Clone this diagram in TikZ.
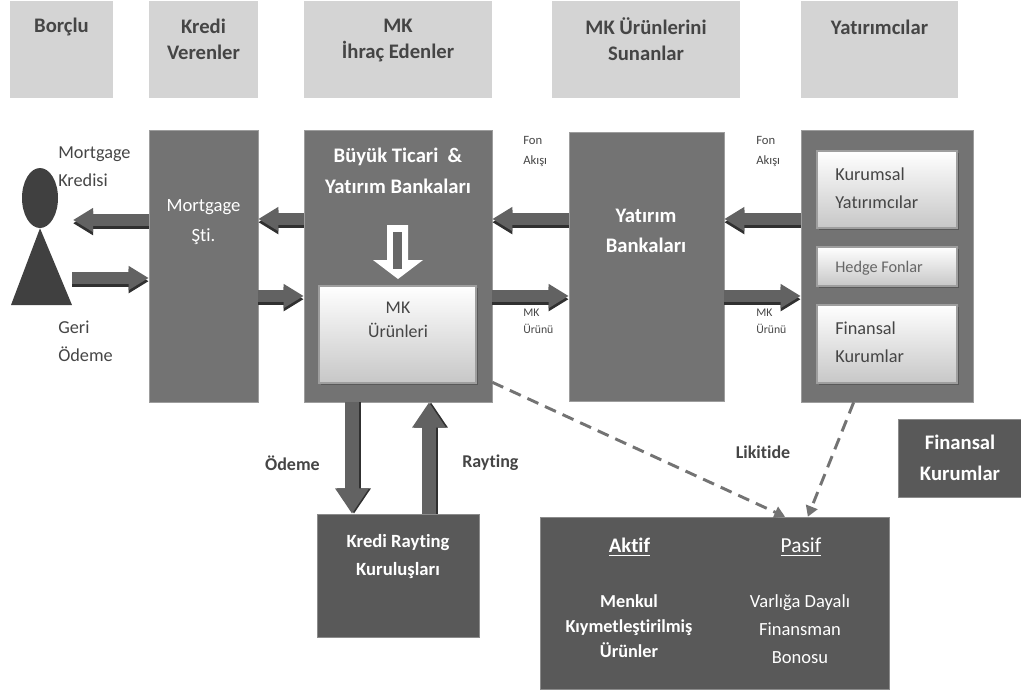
\documentclass[tikz,border=0pt]{standalone}
\usepackage{fontspec}
\setmainfont[Ligatures=NoCommon]{Carlito}
\usetikzlibrary{arrows.meta,shadows,shapes.geometric}
\definecolor{headgray}{HTML}{D4D4D4}
\definecolor{maingray}{HTML}{737373}
\definecolor{darkgray}{HTML}{595959}
\definecolor{figgray}{HTML}{404040}
\definecolor{inkgray}{HTML}{454545}
\definecolor{shaftgray}{HTML}{626262}
\definecolor{edgegray}{HTML}{303030}
\tikzset{
  headbox/.style={rectangle,fill=headgray,minimum height=72.75pt,inner sep=0pt},
  mainbox/.style={rectangle,fill=maingray,draw=maingray!70!white,line width=0.4pt,inner sep=0pt},
  darkbox/.style={rectangle,fill=darkgray,draw=darkgray!70!white,line width=0.4pt,inner sep=0pt},
  lightbox/.style={rectangle,top color=white,bottom color=black!22,draw=black!38,line width=1pt,inner sep=0pt,
    general shadow={shadow xshift=1.8pt,shadow yshift=-1.8pt,fill=black!65}},
  headtext/.style={align=center,text=inkgray,font=\fontsize{15.5}{19.5}\selectfont\bfseries,inner sep=0pt},
  inktext/.style={align=left,text=inkgray,font=\fontsize{13.7}{21}\selectfont,inner sep=0pt},
  smalltext/.style={align=left,text=inkgray,font=\fontsize{9.5}{15}\selectfont,inner sep=0pt},
  tinytext/.style={align=left,text=inkgray,font=\fontsize{8.8}{12.5}\selectfont,inner sep=0pt},
  boldtext/.style={text=inkgray,font=\fontsize{13.5}{15}\selectfont\bfseries,inner sep=0pt},
  whitetext/.style={align=center,text=white,font=\fontsize{14}{23}\selectfont,inner sep=0pt},
  whitebold/.style={align=center,text=white,font=\fontsize{15.5}{23}\selectfont\bfseries,inner sep=0pt},
  fatarrow/.style={line width=8.5pt,draw=shaftgray,-{Triangle[width=17pt,length=15pt]}},
  fatedge/.style={line width=8.5pt,draw=edgegray,-{Triangle[width=17pt,length=15pt]},transform canvas={yshift=-2.4pt}},
  fatdown/.style={line width=11pt,draw=shaftgray,-{Triangle[width=24pt,length=19pt]}},
  downedge/.style={line width=11pt,draw=edgegray,-{Triangle[width=24pt,length=19pt]},transform canvas={xshift=1.5pt}},
  dasharrow/.style={line width=2.2pt,draw=black!55,dash pattern=on 9pt off 5.5pt,-{Triangle[width=9pt,length=8pt]}}
}
\begin{document}
\begin{tikzpicture}[x=0.75pt,y=-0.75pt]
\useasboundingbox (0,0) rectangle (1021,693);

\node[headbox,minimum width=77.25pt] (borclu) at (61.5,49.5) {};
\node[headbox,minimum width=81.75pt] (kredi) at (203.5,49.5) {};
\node[headbox,minimum width=141pt] (ihrac) at (398,49.5) {};
\node[headbox,minimum width=141pt] (sunan) at (646,49.5) {};
\node[headbox,minimum width=117.75pt] (yatirimci) at (879.5,49.5) {};
\node[headtext] (borclutxt) at (61.5,27) {Borçlu};
\node[headtext] (kreditxt) at (203.5,39) {Kredi\\Verenler};
\node[headtext] (ihractxt) at (398,41) {MK\\İhraç Edenler};
\node[headtext] (sunantxt) at (646,39) {MK Ürünlerini\\Sunanlar};
\node[headtext] (yatirimcitxt) at (879.5,27) {Yatırımcılar};

\node[mainbox,minimum width=81.75pt,minimum height=204pt] (mort) at (203.5,266) {};
\node[mainbox,minimum width=141pt,minimum height=204pt] (buyuk) at (398,266) {};
\node[mainbox,minimum width=116.25pt,minimum height=201.75pt] (ybank) at (646.5,266.5) {};
\node[mainbox,minimum width=129pt,minimum height=204pt] (inv) at (887,266) {};
\node[lightbox,minimum width=117.75pt,minimum height=72.75pt] (urun) at (397.5,334.5) {};
\node[lightbox,minimum width=105pt,minimum height=57.75pt] (kur) at (887,189.5) {};
\node[lightbox,minimum width=105pt,minimum height=29.25pt] (hedge) at (887,266.5) {};
\node[lightbox,minimum width=105pt,minimum height=58.5pt] (fin) at (887,344) {};
\node[darkbox,minimum width=121.5pt,minimum height=92.25pt] (rating) at (398,575.5) {};
\node[darkbox,minimum width=261.75pt,minimum height=129pt] (bilanco) at (714.5,603) {};
\node[darkbox,minimum width=92.25pt,minimum height=58.5pt] (finkur) at (959.5,458) {};

\node[whitetext] (morttxt) at (203.5,222) {Mortgage\\Şti.};
\node[whitebold] (buyuktxt) at (398,170.5) {Büyük Ticari \ \&\\Yatırım Bankaları};
\node[whitebold] (ybanktxt) at (646,231) {Yatırım\\Bankaları};
\node[inktext,align=center,font=\fontsize{13.4}{18}\selectfont] (uruntxt) at (398,320) {MK\\Ürünleri};
\node[inktext,anchor=west] (kurtxt) at (835,188) {Kurumsal\\Yatırımcılar};
\node[inktext,anchor=west,font=\fontsize{12.2}{14}\selectfont,text=black!60] (hedgetxt) at (835,268) {Hedge Fonlar};
\node[inktext,anchor=west] (fintxt) at (835,342) {Finansal\\Kurumlar};
\node[whitebold,font=\fontsize{14}{21}\selectfont\bfseries] (ratingtxt) at (398,557) {Kredi Rayting\\Kuruluşları};
\node[whitebold] (finkurtxt) at (960,458) {Finansal\\Kurumlar};
\node[whitebold] (aktif) at (629.5,547) {\underline{Aktif}};
\node[whitetext,font=\fontsize{16}{23}\selectfont] (pasif) at (801,547) {\underline{Pasif}};
\node[whitebold,font=\fontsize{13.7}{18.5}\selectfont\bfseries] (aktiftxt) at (629,626) {Menkul\\Kıymetleştirilmiş\\Ürünler};
\node[whitetext,font=\fontsize{13.9}{21}\selectfont] (pasiftxt) at (800,629) {Varlığa Dayalı\\Finansman\\Bonosu};

\node[inktext,anchor=west] (kredisi) at (58,167) {Mortgage\\Kredisi};
\node[inktext,anchor=west] (geri) at (58,341) {Geri\\Ödeme};
\node[smalltext,anchor=west] (fon1) at (523,151) {Fon\\Akışı};
\node[smalltext,anchor=west] (fon2) at (756,151) {Fon\\Akışı};
\node[tinytext,anchor=west] (urunu1) at (523,321.5) {MK\\Ürünü};
\node[tinytext,anchor=west] (urunu2) at (756,321.5) {MK\\Ürünü};
\node[boldtext,anchor=east] (odeme) at (320,463) {Ödeme};
\node[boldtext,anchor=west] (rayting) at (462,463) {Rayting};
\node[boldtext] (likitide) at (763,452) {Likitide};

\node[ellipse,fill=figgray,minimum width=27pt,minimum height=45pt,inner sep=0pt] (head) at (40,198) {};
\fill[figgray] (head.south) -- (72,305) -- (11,305) -- cycle;
\coordinate (body) at (73,220);
\coordinate (feet) at (72,278);
\coordinate (fonline) at (0,219);
\coordinate (mkline) at (0,296);
\coordinate (odemex) at (352,0);
\coordinate (ratingx) at (429,0);

\foreach \fatstyle in {fatedge,fatarrow} {
\draw[\fatstyle] (mort.west |- body) -- (body);
\draw[\fatstyle] (feet) -- (mort.west |- feet);
\draw[\fatstyle] (buyuk.west |- fonline) -- (mort.east |- fonline);
\draw[\fatstyle] (mort.east |- mkline) -- (buyuk.west |- mkline);
\draw[\fatstyle] (ybank.west |- fonline) -- (buyuk.east |- fonline);
\draw[\fatstyle] (buyuk.east |- mkline) -- (ybank.west |- mkline);
\draw[\fatstyle] (inv.west |- fonline) -- (ybank.east |- fonline);
\draw[\fatstyle] (ybank.east |- mkline) -- (inv.west |- mkline);
}
\foreach \fatstyle in {downedge,fatdown} {
\draw[\fatstyle] (buyuk.south -| odemex) -- (rating.north -| odemex);
\draw[\fatstyle] (rating.north -| ratingx) -- (buyuk.south -| ratingx);
}

\fill[white] (387,225) -- (408,225) -- (408,260) -- (423,260) -- (398,279) -- (373,260) -- (387,260) -- cycle;
\fill[maingray!90!black] (393,232) rectangle (402,269);

\draw[dasharrow] ([yshift=15pt]buyuk.south east) -- ([xshift=52.9pt]bilanco.north);
\draw[dasharrow] ([xshift=-25pt]inv.south) -- ([xshift=70pt]bilanco.north);
\end{tikzpicture}
\end{document}
